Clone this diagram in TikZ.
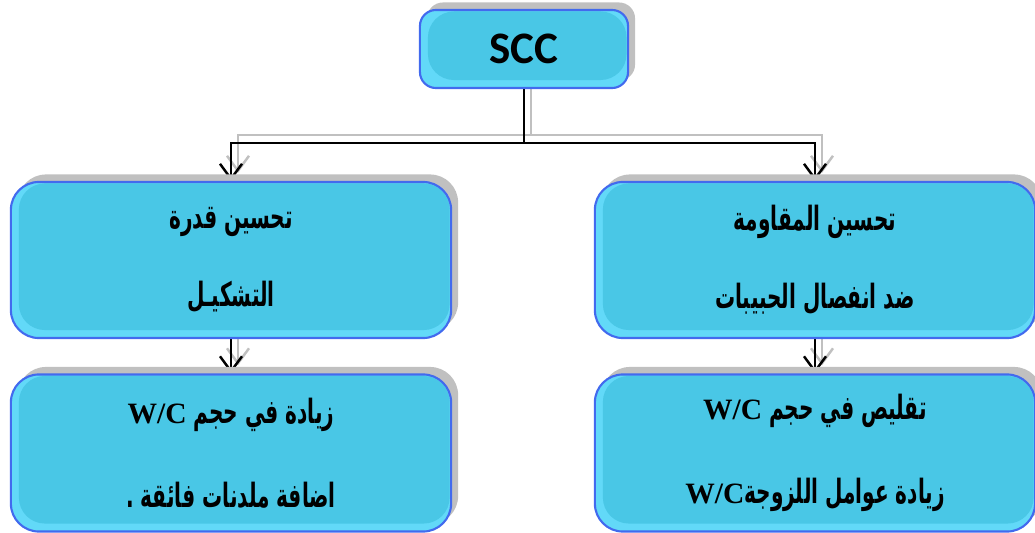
\documentclass[tikz,border=0pt]{standalone}
\usepackage{fontspec}
\usetikzlibrary{arrows.meta,shadows}
\TeXXeTstate=1
\newfontfamily\arabicfont[Script=Arabic, FakeStretch=0.6]{DejaVu Sans}
\newfontfamily\latinbold{Liberation Serif}
\newfontfamily\sccfont{Carlito}

\definecolor{boxfill}{RGB}{73,199,230}
\definecolor{boxrim}{RGB}{98,217,248}
\definecolor{boxline}{RGB}{66,106,238}
\definecolor{shade}{RGB}{192,192,192}

\pgfdeclarelayer{back}
\pgfsetlayers{back,main}

% one right-to-left line
\newcommand{\rtl}[1]{{\arabicfont\bfseries\beginR #1\endR}}
\newcommand{\wcratio}{\beginL{\latinbold\bfseries\fontsize{8.4}{10}\selectfont W/C}\endL}

\tikzset{
	box/.style={draw=boxline, line width=0.6pt, fill=boxrim, rounded corners=2.8mm,
		minimum width=4.4cm, minimum height=1.56cm, align=center, inner sep=0pt,
		general shadow={fill=shade, shadow xshift=0.7mm, shadow yshift=0.75mm},
		path picture={\fill[boxfill, rounded corners=2.6mm]
			([shift={(0.8mm,0.8mm)}]path picture bounding box.south west) rectangle
			([shift={(-0.15mm,-0.15mm)}]path picture bounding box.north east);}},
	link/.style={draw=black, line width=0.7pt, -{Straight Barb[length=1.5mm,width=2.2mm]}},
	linkshade/.style={link, draw=shade, transform canvas={xshift=0.7mm, yshift=0.8mm}}
}

\begin{document}
\begin{tikzpicture}[x=0.01cm, y=-0.01cm]
		\useasboundingbox (0,0) rectangle (1035,533);
		\node[box, minimum width=2.08cm, minimum height=0.78cm, rounded corners=1.6mm,
			font=\sccfont\bfseries\fontsize{12.8}{14}\selectfont] (scc) at (524,49) {SCC};
		\node[box, font=\fontsize{9.5}{22}\selectfont] (form) at (231,260)
			{\rtl{تحسين قدرة}\\\rtl{التشكيـل}};
		\node[box, font=\fontsize{9.5}{22}\selectfont] (segr) at (815,260)
			{\rtl{تحسين المقاومة}\\\rtl{ضد انفصال الحبيبات}};
		\node[box, minimum height=1.57cm, font=\fontsize{9.5}{24}\selectfont] (wcup) at (231,453)
			{\rtl{زيادة في حجم \wcratio}\\\rtl{اضافة ملدنات فائقة  .}};
		\node[box, minimum height=1.57cm, font=\fontsize{9.5}{24}\selectfont] (wcdown) at (815,453)
			{\rtl{تقليص في حجم \wcratio}\\\rtl{زيادة عوامل اللزوجة\wcratio}};
		\coordinate (bus) at (524,143);
		\begin{pgfonlayer}{back}
			\draw[linkshade] (scc.south) -- (bus) -| (form.north);
			\draw[linkshade] (bus) -| (segr.north);
			\draw[linkshade] (form.south) -- (wcup.north);
			\draw[linkshade] (segr.south) -- (wcdown.north);
			\draw[link] (scc.south) -- (bus) -| (form.north);
			\draw[link] (bus) -| (segr.north);
			\draw[link] (form.south) -- (wcup.north);
			\draw[link] (segr.south) -- (wcdown.north);
		\end{pgfonlayer}
	\end{tikzpicture}
\end{document}
